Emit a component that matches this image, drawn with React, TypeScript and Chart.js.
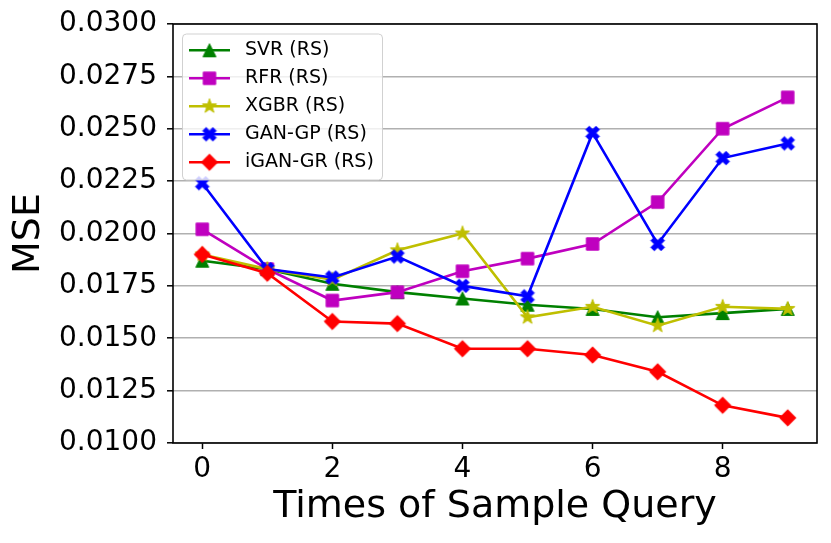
import React, { useEffect, useRef } from "react";
import { Chart, registerables } from "chart.js";

Chart.register(...registerables);

const xValues = [0, 1, 2, 3, 4, 5, 6, 7, 8, 9];
const xTickValues = [0, 2, 4, 6, 8];
const seriesLabels = ["SVR (RS)", "RFR (RS)", "XGBR (RS)", "GAN-GP (RS)", "iGAN-GR (RS)"];
const svrValues = [0.0187, 0.0183, 0.0176, 0.0172, 0.0169, 0.0166, 0.0164, 0.016, 0.0162, 0.0164];
const rfrValues = [0.0202, 0.0183, 0.0168, 0.0172, 0.0182, 0.0188, 0.0195, 0.0215, 0.025, 0.0265];
const xgbrValues = [0.019, 0.0183, 0.0178, 0.0192, 0.02, 0.016, 0.0165, 0.0156, 0.0165, 0.0164];
const ganGpValues = [0.0224, 0.0183, 0.0179, 0.0189, 0.0175, 0.017, 0.0248, 0.0195, 0.0236, 0.0243];
const iganValues = [0.019, 0.0181, 0.0158, 0.0157, 0.0145, 0.0145, 0.0142, 0.0134, 0.0118, 0.0112];
const seriesColors = ["#008000", "#bf00bf", "#bfbf00", "#0000ff", "#ff0000"];
const seriesMarkers = ["triangle", "square", "star", "xfilled", "diamond"];

const FONT = "'DejaVu Sans', sans-serif";

function makeMarker(kind: string, color: string): HTMLCanvasElement {
  const c = document.createElement("canvas");
  c.width = 24;
  c.height = 24;
  const ctx = c.getContext("2d")!;
  ctx.translate(12, 12);
  ctx.fillStyle = color;
  ctx.strokeStyle = color;
  ctx.lineWidth = 1;
  ctx.lineJoin = "miter";
  ctx.beginPath();
  if (kind === "triangle") {
    const h = 6.5;
    ctx.moveTo(0, -h);
    ctx.lineTo(-h, h);
    ctx.lineTo(h, h);
    ctx.closePath();
  } else if (kind === "square") {
    const h = 6.2;
    ctx.rect(-h, -h, 2 * h, 2 * h);
  } else if (kind === "star") {
    const ro = 7.5;
    const ri = 3.0;
    for (let i = 0; i < 10; i++) {
      const r = i % 2 === 0 ? ro : ri;
      const a = -Math.PI / 2 + (i * Math.PI) / 5;
      const px = r * Math.cos(a);
      const py = r * Math.sin(a);
      if (i === 0) ctx.moveTo(px, py);
      else ctx.lineTo(px, py);
    }
    ctx.closePath();
  } else if (kind === "xfilled") {
    const L = 7.2;
    const w = 2.4;
    const pts = [
      [w, w], [L, w], [L, -w], [w, -w], [w, -L], [-w, -L], [-w, -w],
      [-L, -w], [-L, w], [-w, w], [-w, L], [w, L],
    ];
    const cs = Math.cos(Math.PI / 4);
    pts.forEach(([px, py], i) => {
      const rx = px * cs - py * cs;
      const ry = px * cs + py * cs;
      if (i === 0) ctx.moveTo(rx, ry);
      else ctx.lineTo(rx, ry);
    });
    ctx.closePath();
  } else if (kind === "diamond") {
    const h = 8.2;
    ctx.moveTo(0, -h);
    ctx.lineTo(h, 0);
    ctx.lineTo(0, h);
    ctx.lineTo(-h, 0);
    ctx.closePath();
  }
  ctx.fill();
  ctx.stroke();
  return c;
}

export default function App() {
  const canvasRef = useRef<HTMLCanvasElement | null>(null);

  useEffect(() => {
    document.body.style.margin = "0";
    const canvas = canvasRef.current;
    if (!canvas) return;

    const allValues = [svrValues, rfrValues, xgbrValues, ganGpValues, iganValues];
    const markers = seriesMarkers.map((m, i) => makeMarker(m, seriesColors[i]));

    const datasets = allValues.map((vals, i) => ({
      label: seriesLabels[i],
      data: xValues.map((x, j) => ({ x, y: vals[j] })),
      borderColor: seriesColors[i],
      backgroundColor: seriesColors[i],
      borderWidth: 2.6,
      pointStyle: markers[i] as any,
      pointRadius: 7,
      pointHoverRadius: 7,
      tension: 0,
      order: 5 - i,
      clip: false as any,
    }));

    const framePlugin = {
      id: "frame",
      afterDatasetsDraw(chart: any) {
        const { ctx, chartArea } = chart;
        ctx.save();
        ctx.strokeStyle = "#000000";
        ctx.lineWidth = 1.6;
        ctx.strokeRect(chartArea.left, chartArea.top, chartArea.right - chartArea.left, chartArea.bottom - chartArea.top);
        ctx.restore();
      },
    };

    const legendPlugin = {
      id: "mplLegend",
      afterDraw(chart: any) {
        const { ctx } = chart;
        ctx.save();
        const bx = 182.5, by = 34, bw = 200, bh = 146, r = 4;
        ctx.beginPath();
        ctx.moveTo(bx + r, by);
        ctx.lineTo(bx + bw - r, by);
        ctx.quadraticCurveTo(bx + bw, by, bx + bw, by + r);
        ctx.lineTo(bx + bw, by + bh - r);
        ctx.quadraticCurveTo(bx + bw, by + bh, bx + bw - r, by + bh);
        ctx.lineTo(bx + r, by + bh);
        ctx.quadraticCurveTo(bx, by + bh, bx, by + bh - r);
        ctx.lineTo(bx, by + r);
        ctx.quadraticCurveTo(bx, by, bx + r, by);
        ctx.closePath();
        ctx.fillStyle = "rgba(255,255,255,0.8)";
        ctx.fill();
        ctx.strokeStyle = "rgba(204,204,204,0.9)";
        ctx.lineWidth = 1;
        ctx.stroke();
        ctx.font = `19px ${FONT}`;
        ctx.textBaseline = "middle";
        ctx.textAlign = "left";
        seriesLabels.forEach((label, i) => {
          const y = 50.3 + i * 28;
          ctx.strokeStyle = seriesColors[i];
          ctx.lineWidth = 2.6;
          ctx.beginPath();
          ctx.moveTo(189, y);
          ctx.lineTo(230, y);
          ctx.stroke();
          const m = markers[i];
          ctx.drawImage(m, 209.5 - m.width / 2, y - m.height / 2);
          ctx.fillStyle = "#000000";
          ctx.fillText(label, 245, y);
        });
        ctx.restore();
      },
    };

    const chart = new Chart(canvas, {
      type: "line",
      data: { datasets: datasets as any },
      options: {
        animation: false,
        responsive: true,
        maintainAspectRatio: false,
        layout: { padding: { top: 24, right: 14, left: 0, bottom: 0 } },
        plugins: {
          legend: { display: false },
          tooltip: { enabled: false },
        },
        scales: {
          x: {
            type: "linear",
            min: -0.45,
            max: 9.45,
            afterBuildTicks: (scale: any) => {
              scale.ticks = xTickValues.map((v) => ({ value: v }));
            },
            afterFit: (scale: any) => {
              scale.height = 100;
              scale.paddingLeft = 0;
              scale.paddingRight = 0;
              scale.paddingTop = 0;
              scale.paddingBottom = 0;
            },
            grid: {
              drawOnChartArea: false,
              drawTicks: true,
              tickLength: 6,
              tickColor: "#000000",
              tickWidth: 1.5,
            },
            border: { display: false },
            ticks: {
              color: "#000000",
              font: { family: FONT, size: 28 },
              padding: 4,
              maxRotation: 0,
              callback: (v: any) => String(v),
            },
            title: {
              display: true,
              text: "Times of Sample Query",
              color: "#000000",
              font: { family: FONT, size: 38, lineHeight: 1 },
              padding: { top: 0, bottom: 17 },
            },
          },
          y: {
            type: "linear",
            min: 0.01,
            max: 0.03,
            afterBuildTicks: (scale: any) => {
              const t = [];
              for (let i = 0; i <= 8; i++) t.push({ value: 0.01 + i * 0.0025 });
              scale.ticks = t;
            },
            afterFit: (scale: any) => {
              scale.width = 173;
              scale.paddingLeft = 0;
              scale.paddingRight = 0;
              scale.paddingTop = 0;
              scale.paddingBottom = 0;
            },
            grid: {
              drawOnChartArea: true,
              drawTicks: true,
              tickLength: 6,
              color: "#b0b0b0",
              lineWidth: 1.6,
              tickColor: "#000000",
              tickWidth: 1.5,
            },
            border: { display: false },
            ticks: {
              color: "#000000",
              font: { family: FONT, size: 28 },
              padding: 10,
              callback: (v: any) => Number(v).toFixed(4),
            },
            title: {
              display: true,
              text: "MSE",
              color: "#000000",
              font: { family: FONT, size: 38, lineHeight: 1 },
              padding: { top: 10, bottom: 0 },
            },
          },
        },
      },
      plugins: [framePlugin, legendPlugin],
    });

    return () => {
      chart.destroy();
    };
  }, []);

  return (
    <div style={{ position: "relative", width: 831, height: 543 }}>
      <canvas ref={canvasRef} />
    </div>
  );
}
